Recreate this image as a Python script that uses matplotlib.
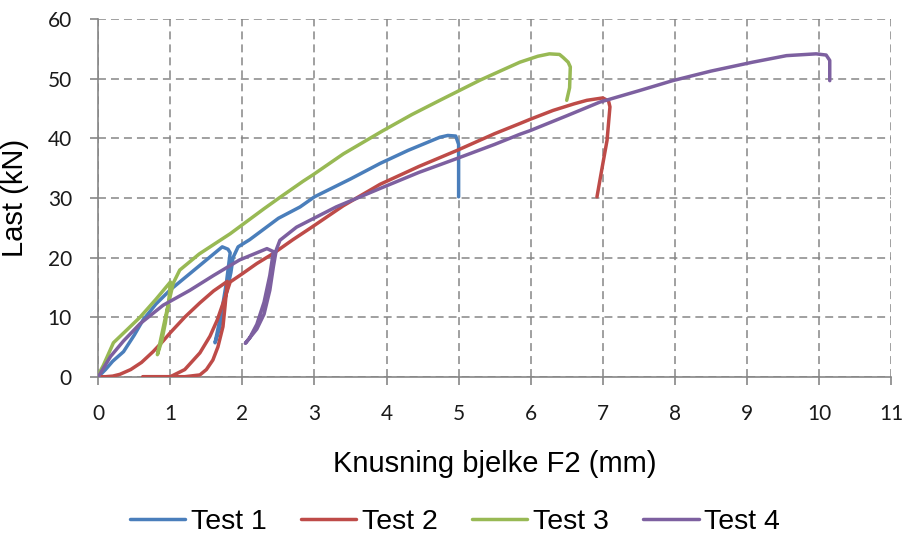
import matplotlib
matplotlib.use("Agg")
import matplotlib.pyplot as plt

# Load vs. crushing displacement for beam F2, four tests
test1_x = [0, 0.1, 0.2, 0.35, 0.5, 0.62, 0.8, 1.0, 1.28, 1.5, 1.72, 1.8, 1.83, 1.78, 1.72, 1.66, 1.62,
           1.68, 1.76, 1.84, 1.87, 1.94, 2.1, 2.5, 2.8, 3.0, 3.5, 3.91, 4.3, 4.74, 4.85, 4.96, 5.0, 5.0, 5.0]
test1_y = [0, 1.2, 2.6, 4.2, 7.0, 9.5, 12.2, 14.6, 17.4, 19.6, 21.8, 21.4, 20.8, 16.0, 11.5, 8.0, 5.7,
           8.0, 13.0, 17.5, 20.0, 21.8, 23.0, 26.6, 28.5, 30.2, 33.2, 35.8, 38.0, 40.2, 40.5, 40.4, 39.0, 35.0, 30.2]

test2_x = [0, 0.1, 0.2, 0.3, 0.45, 0.6, 0.76, 0.9, 1.0, 1.2, 1.41, 1.6, 1.79,
           1.76, 1.73, 1.66, 1.59, 1.5, 1.41, 1.2, 0.9, 0.62,
           0.8, 1.0, 1.2, 1.41, 1.55, 1.65, 1.75, 1.83,
           2.0, 2.2, 2.43, 2.7, 2.95, 3.4, 3.91, 4.45, 4.98, 5.5, 5.85, 5.99, 6.31, 6.6, 6.78,
           7.0, 7.08, 7.1, 7.06, 6.99, 6.92]
test2_y = [0, 0, 0.1, 0.4, 1.2, 2.4, 4.2, 6.0, 7.4, 10.0, 12.4, 14.4, 16.0,
           12.0, 8.4, 5.0, 2.8, 1.2, 0.3, 0, 0, 0,
           0, 0, 1.2, 4.0, 6.8, 9.5, 13.0, 15.9,
           17.3, 19.0, 20.7, 23.0, 25.0, 28.7, 32.3, 35.3, 38.0, 40.8, 42.5, 43.2, 44.7, 45.8, 46.4,
           46.8, 46.3, 45.3, 39.7, 35.0, 30.2]

test3_x = [0, 0.03, 0.07, 0.21, 0.4, 0.58, 0.8, 1.0,
           0.98, 0.93, 0.88, 0.82,
           0.87, 0.95, 1.04, 1.13, 1.4, 1.83, 2.3, 2.52, 2.84, 2.98, 3.4, 3.95, 4.35, 4.74,
           5.3, 5.85, 6.1, 6.26, 6.4, 6.45, 6.52, 6.55, 6.54, 6.5]
test3_y = [0, 1.0, 1.9, 5.7, 7.9, 10.0, 13.0, 15.9,
           13.0, 9.0, 6.0, 3.7,
           6.5, 11.0, 15.7, 17.9, 20.6, 24.0, 28.2, 30.1, 32.8, 33.9, 37.4, 41.3, 44.0, 46.4,
           49.8, 52.8, 53.8, 54.2, 54.1, 53.6, 52.8, 52.0, 48.5, 46.4]

test4_x = [0, 0.08, 0.17, 0.35, 0.58, 0.9, 1.27, 1.6, 1.96, 2.2, 2.34, 2.43,
           2.38, 2.3, 2.2, 2.1, 2.04,
           2.08, 2.2, 2.3, 2.38, 2.43, 2.47, 2.52, 2.75, 3.3, 3.91, 4.45, 4.97, 5.5, 5.85, 5.99,
           6.5, 6.96, 7.5, 7.97, 8.5, 9.08, 9.55, 9.96, 10.1, 10.15, 10.15]
test4_y = [0, 1.6, 3.4, 6.0, 8.9, 12.0, 14.5, 17.0, 19.6, 20.8, 21.5, 21.0,
           17.0, 12.5, 8.8, 6.5, 5.6,
           6.2, 8.0, 10.5, 14.5, 18.5, 21.3, 22.9, 25.1, 28.5, 31.6, 34.3, 36.6, 39.0, 40.7, 41.3,
           43.8, 46.1, 48.0, 49.7, 51.3, 52.8, 53.9, 54.2, 54.0, 53.1, 49.7]

labels = ["Test 1", "Test 2", "Test 3", "Test 4"]
colors = ["#4A7EBB", "#BE4B48", "#98B954", "#7D60A0"]
x_ticks = list(range(0, 12))
y_ticks = list(range(0, 61, 10))

series = [(test1_x, test1_y), (test2_x, test2_y), (test3_x, test3_y), (test4_x, test4_y)]

fig = plt.figure(figsize=(9.08, 5.42), dpi=100)
ax = fig.add_axes([98.3 / 908, 1 - 376.7 / 542, (891 - 98.3) / 908, (376.7 - 19.3) / 542])

for (xs, ys), lab, col in zip(series, labels, colors):
    ax.plot(xs, ys, color=col, lw=2.5, label=lab, solid_joinstyle="round",
            solid_capstyle="round", zorder=3)

ax.set_xlim(0, 11)
ax.set_ylim(0, 60)
ax.set_xticks(x_ticks)
ax.set_yticks(y_ticks)

grid_col = "#868686"
ax.grid(True, color=grid_col, lw=1.1, linestyle=(0, (5.2, 3.3)), zorder=1)
for side in ("top", "right"):
    ax.spines[side].set_visible(False)
for side in ("left", "bottom"):
    ax.spines[side].set_color(grid_col)
    ax.spines[side].set_linewidth(1.2)
    ax.spines[side].set_zorder(2)

ax.tick_params(axis="both", direction="out", length=6, width=1.2, color=grid_col,
               labelsize=15, labelcolor="#1a1a1a")
ax.tick_params(axis="y", pad=13)
ax.tick_params(axis="x", pad=14)
for t in ax.get_xticklabels() + ax.get_yticklabels():
    t.set_fontfamily("Lato")

ax.set_xlabel("Knusning bjelke F2 (mm)", fontsize=21, family="Liberation Sans")
ax.set_ylabel("Last (kN)", fontsize=21, family="Liberation Sans")
ax.xaxis.set_label_coords(0.5, -0.205)
ax.yaxis.set_label_coords(-0.088, 0.5)

fig.legend(loc="center", bbox_to_anchor=(0.501, 0.037), ncol=4, frameon=False,
           prop={"family": "Liberation Sans", "size": 20.5}, handlelength=1.95,
           handletextpad=0.2, columnspacing=1.2)

fig.savefig("out.png", dpi=100)
